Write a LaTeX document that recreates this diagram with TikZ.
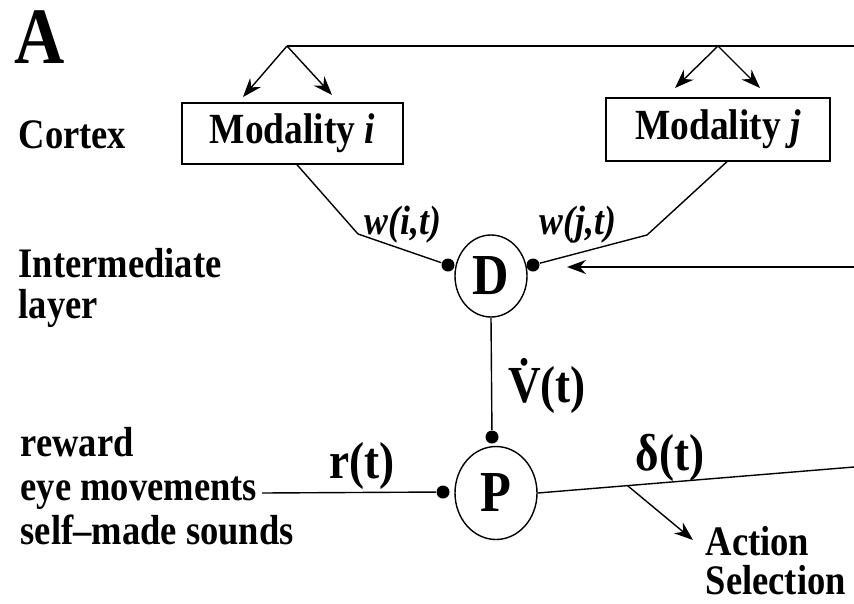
\documentclass[tikz,border=0pt]{standalone}
\usepackage{fontspec}
\setmainfont[FakeStretch=0.87]{Liberation Serif}
\usetikzlibrary{arrows.meta,shapes.geometric,calc}
\begin{document}
\begin{tikzpicture}[x=1pt,y=-1pt,line width=1.4pt,
  lbl/.style={font=\fontsize{42}{42}\selectfont\bfseries,inner sep=0pt},
  mlbl/.style={font=\fontsize{52}{52}\selectfont\bfseries,inner sep=0pt},
  wlbl/.style={font=\fontsize{41}{41}\selectfont\bfseries\itshape,inner sep=0pt},
  modbox/.style={draw,line width=1.3pt,inner sep=0pt,font=\fontsize{43}{43}\selectfont\bfseries},
  unit/.style={draw,ellipse,inner sep=0pt,font=\fontsize{58}{58}\selectfont\bfseries},
  syn/.style={circle,fill=black,inner sep=0pt,minimum size=13pt},
  arr/.style={-{Stealth[length=19pt,width=14pt]}}]
\useasboundingbox (0,0) rectangle (854,603);

% panel letter and side labels
\node[font=\fontsize{80}{80}\selectfont\bfseries,inner sep=0pt,anchor=base west] (A) at (14,63) {A};
\node[lbl,anchor=base west] (cortex) at (18,148) {Cortex};
\node[lbl,anchor=base west] (inter) at (18,277) {Intermediate};
\node[lbl,anchor=base west] (layer) at (18,318) {layer};
\node[lbl,anchor=base west] (reward) at (20,456) {reward};
\node[lbl,anchor=base west] (eye) at (20,500) {eye movements};
\node[lbl,anchor=base west] (self) at (20,544) {self--made sounds};

% cortex boxes
\node[modbox,minimum width=221pt,minimum height=61pt] (mi) at (292.5,133.5) {Modality \textit{i}};
\node[modbox,minimum width=224pt,minimum height=63pt] (mj) at (718,129.5) {Modality \textit{j}};

% units
\node[unit,minimum width=72pt,minimum height=82pt] (D) at (491,276) {D};
\node[unit,minimum width=82pt,minimum height=93pt] (P) at (496,493) {P};

% synapse dots
\node[syn] (dl) at (448,265) {};
\node[syn] (dr) at (533,265) {};
\node[syn] (pt) at (492,437) {};
\node[syn] (pl) at (443,492) {};

% top distribution line
\coordinate (t1) at (287,46);
\coordinate (t2) at (718,46);
\coordinate (tR) at (854,46);
\coordinate (a1) at (243,97);
\coordinate (a2) at (332,95);
\coordinate (a3) at (675,88);
\coordinate (a4) at (760,88);
\draw (t1) -- (tR);
\draw[arr] (t1) -- (a1);
\draw[arr] (t1) -- (a2);
\draw[arr] (t2) -- (a3);
\draw[arr] (t2) -- (a4);

% modality to D
\coordinate (ki) at (358,234);
\coordinate (kj) at (647,235);
\draw ($(mi.south west)!0.52!(mi.south east)$) -- (ki) -- (dl);
\draw ($(mj.south west)!0.54!(mj.south east)$) -- (kj) -- (dr);

% feedback into D
\coordinate (fbR) at (854,267);
\coordinate (fbT) at (567,267);
\draw[arr] (fbR) -- (fbT);

% D to P
\draw (D.south) -- (pt);

% reward input
\coordinate (rin) at (262,493);
\draw (rin) -- (pl);

% delta output
\coordinate (dR) at (854,467);
\draw (P.east) -- (dR);
\coordinate (br) at ($(P.east)!0.284!(dR)$);
\coordinate (act) at (693,540);
\draw[arr] (br) -- (act);

% labels
\node[wlbl] (wi) at (403,225) {w(i,t)};
\node[wlbl] (wj) at (578,225) {w(j,t)};
\node[mlbl] (vd) at (547,386) {\.{V}(t)};
\node[mlbl] (rt) at (362,466) {r(t)};
\node[mlbl] (dt) at (670,458) {δ(t)};
\node[lbl,anchor=base west] (action) at (705,555) {Action};
\node[lbl,anchor=base west] (selection) at (705,594) {Selection};
\end{tikzpicture}
\end{document}
